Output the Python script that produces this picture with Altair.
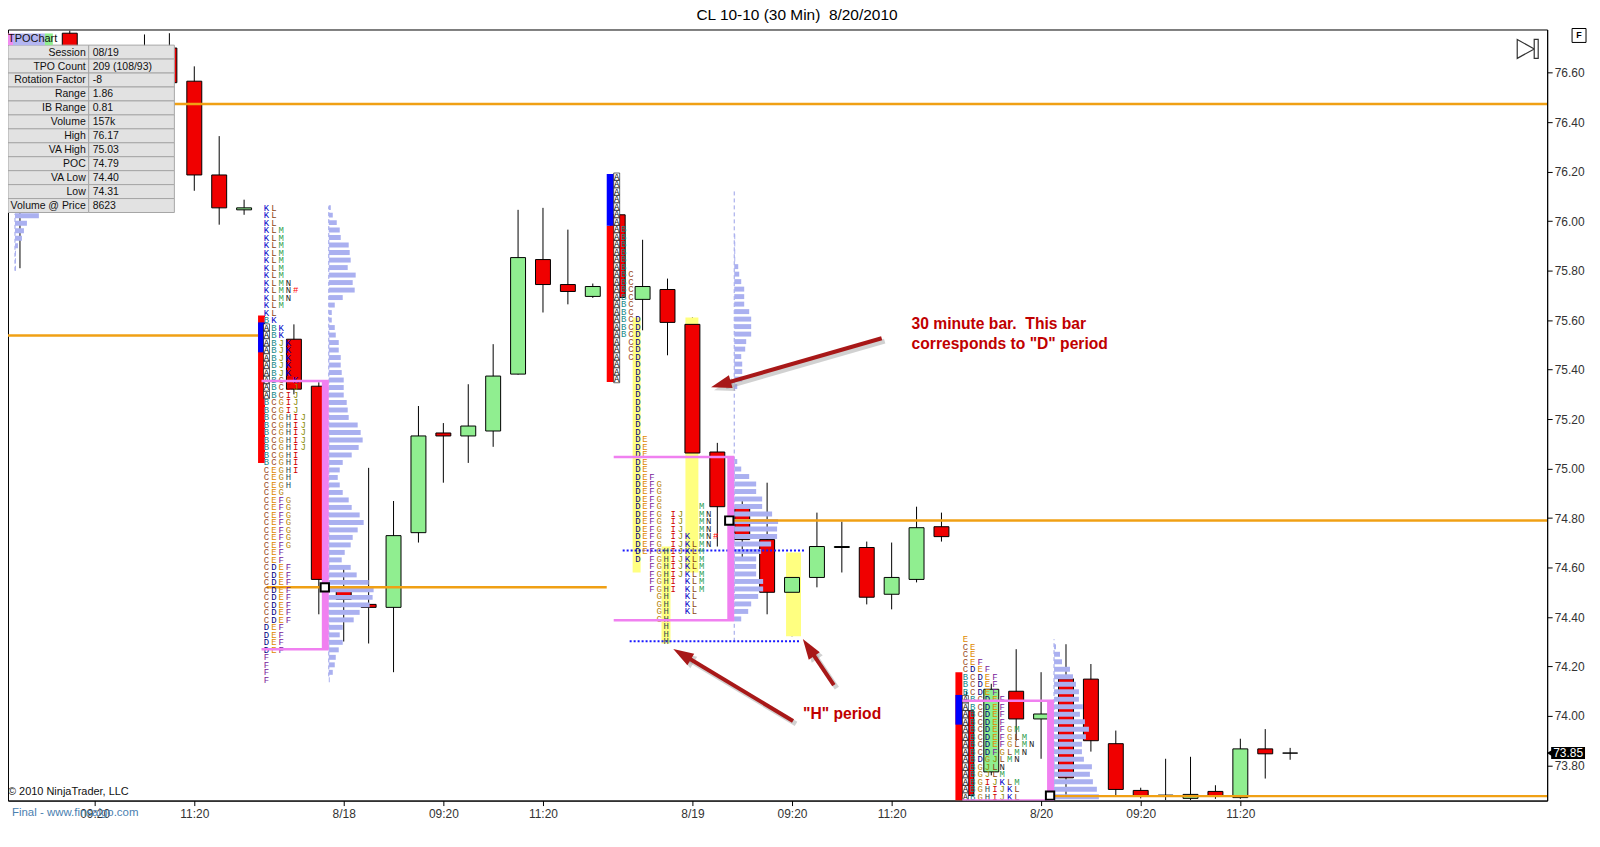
import math
import altair as alt
import pandas as pd

# ------------------------------------------------------------------ data
title_text = "CL 10-10 (30 Min)\u00a0 8/20/2010"

# 30-minute bars: slot index (evenly spaced bars) and OHLC
bar_slot = [0, 2, 5, 6, 7, 8, 9, 11, 12, 13,
            14, 15, 16, 17, 18, 19, 20, 21, 22, 23,
            24, 25, 26, 27, 28, 29, 30, 31, 32, 33,
            34, 35, 36, 37, 38, 39, 40, 41,
            42, 43, 44, 45, 46, 47, 48, 49, 50, 51]
bar_open = [76.20, 76.76, 76.65, 76.70, 76.566, 76.187, 76.046, 75.523, 75.333, 74.520,
            74.451, 74.439, 74.741, 75.144, 75.132, 75.152, 75.382, 75.845, 75.744, 75.696,
            76.026, 75.684, 75.724, 75.583, 75.067, 74.842, 74.713, 74.500, 74.560, 74.681,
            74.681, 74.492, 74.552, 74.765, 74.021, 73.774, 74.100, 73.988,
            74.15, 74.149, 73.888, 73.699, 73.68, 73.667, 73.695, 73.670, 73.867, 73.85]
bar_high = [76.30, 76.77, 76.755, 76.76, 76.626, 76.344, 76.087, 75.583, 75.349, 74.600,
            75.003, 74.869, 75.253, 75.184, 75.341, 75.503, 76.046, 76.054, 75.966, 75.748,
            76.170, 75.925, 75.768, 75.611, 75.104, 74.874, 74.943, 74.653, 74.822, 74.786,
            74.705, 74.701, 74.846, 74.822, 74.10, 74.13, 74.270, 74.177,
            74.290, 74.210, 73.941, 73.71, 73.827, 73.835, 73.72, 73.908, 73.947, 73.871]
bar_low = [75.81, 76.40, 76.50, 76.50, 76.123, 75.986, 76.026, 75.30, 74.411, 74.301,
           74.293, 74.177, 74.701, 74.943, 75.023, 75.088, 75.380, 75.631, 75.664, 75.690,
           75.620, 75.559, 75.458, 74.633, 74.685, 74.633, 74.411, 74.322, 74.520, 74.580,
           74.451, 74.431, 74.540, 74.705, 73.65, 73.76, 73.90, 73.827,
           73.68, 73.856, 73.68, 73.667, 73.66, 73.66, 73.665, 73.665, 73.747, 73.823]
bar_close = [76.05, 76.50, 76.60, 76.56, 76.187, 76.054, 76.054, 75.321, 74.552, 74.471,
             74.439, 74.729, 75.132, 75.132, 75.172, 75.374, 75.853, 75.744, 75.716, 75.736,
             75.692, 75.736, 75.591, 75.063, 74.846, 74.713, 74.500, 74.560, 74.685, 74.685,
             74.480, 74.560, 74.761, 74.725, 73.679, 74.108, 73.988, 74.008,
             73.75, 73.900, 73.703, 73.675, 73.675, 73.683, 73.675, 73.867, 73.847, 73.85]

tick_slots = [3, 7, 13, 17, 21, 27, 31, 35, 41, 45, 49]
tick_labels = ["09:20", "11:20", "8/18", "09:20", "11:20", "8/19",
               "09:20", "11:20", "8/20", "09:20", "11:20"]
price_ticks = [73.8, 74.0, 74.2, 74.4, 74.6, 74.8, 75.0, 75.2, 75.4, 75.6,
               75.8, 76.0, 76.2, 76.4, 76.6]

# TPO letter profiles (one string per price row, top row first)
LETTER_ORDER = "ABCDEFGHIJKLMN#"
tpo_818 = ["KL", "KL", "KL", "KLM", "KLM", "KLM", "KLM", "KLM", "KLM", "KLM",
           "KLMN", "KLMN#", "KLMN", "KLM", "KL", "BK", "ABK", "ABK", "ABJK", "ABJK",
           "ABJK", "ABJK", "ABJK", "ABCIK", "ABCIJ", "ABCIJ", "BCGIJ", "BCGIJ", "BCGHIJ", "BCGHIJ",
           "BCGHIJ", "BCGHIJ", "BCGHIJ", "BCGHI", "BCGHI", "CEGHI", "CEGH", "CEGH", "CEG", "CEFG",
           "CEFG", "CEFG", "CEFG", "CEFG", "CEFG", "CEFG", "CEF", "CEF", "CDEF", "CDEF",
           "CDEF", "CDEF", "CDEF", "CDEF", "CDEF", "CDEF", "DEF", "DEF", "DEF", "DEF",
           "F", "F", "F", "F"]
tpo_819 = ["A"] * 7 + ["AB"] * 6 + ["ABC"] * 6 + ["ABCD"] * 3 + ["ACD"] * 3 + ["AD"] * 3 + \
          ["D"] * 7 + ["DE"] * 5 + ["DEF"] + ["DEFG"] * 3 + ["DEFGM"] + ["DEFGIJMN"] * 3 + \
          ["DEFGIJKMN#", "DEFGIJKLMN", "DEFGHIJKLM", "DFGHIJKLM"] + ["FGHIJKLM"] * 2 + \
          ["FGHIKLM"] * 2 + ["GHKL"] * 3 + ["GH"] + ["H"] * 3
tpo_820 = ["E", "CE", "CE", "CEF", "CDEF", "BCDEF", "BCDEF", "BCDEF", "ABCDEF", "ABCDEF",
           "ABCDEF", "ABCDEF", "ABCDEFGM", "ABCDEFGLM", "ABCDEFGLMN", "ABCDFGLMN", "ABDGJLMN",
           "ABGJLN", "ABGJLM", "ABGIJKLM", "ABGHIJKL", "ABGHIJKL"]
ROW_STEP = 0.0303
tpo_profiles = [
    dict(rows=tpo_818, slot0=9.90, col=0.294, top=76.055, packed=True),
    dict(rows=tpo_819, slot0=23.96, col=0.284, top=76.18, packed=False),
    dict(rows=tpo_820, slot0=37.96, col=0.296, top=74.31, packed=True),
]
letter_colors = {"A": "#000000", "B": "#178a8a", "C": "#a0522d", "D": "#00007f",
                 "E": "#e08a00", "F": "#7a1a9a", "G": "#b8860b", "H": "#2f4f4f",
                 "I": "#d00000", "J": "#8a8a00", "K": "#0000c8", "L": "#8b4513",
                 "M": "#2e9e4e", "N": "#202020", "#": "#ff0000"}

# volume-at-price histograms (relative volume per row)
vol_817 = [24, 12, 9, 7, 3, 1, 1, 1]
vol_818 = [2, 4, 8, 11, 12, 20, 21, 22, 19, 27, 24, 26, 14, 6, 3, 3, 6, 7, 10, 10,
           12, 12, 13, 15, 15, 15, 18, 19, 20, 29, 32, 34, 30, 23, 14, 11, 9, 11, 14, 20,
           23, 31, 35, 29, 24, 22, 16, 13, 22, 28, 40, 45, 44, 41, 31, 25, 14, 11, 14, 10,
           7, 6, 4, 1]
vol_819 = [0, 0, 0, 0, 0, 0, 0, 0, 1, 1, 1, 1, 4, 5, 7, 10, 10, 10, 15, 17,
           17, 17, 12, 11, 7, 8, 8, 8, 3, 0, 0, 0, 0, 0, 0, 0, 0, 0, 3, 7,
           15, 22, 22, 28, 28, 38, 44, 43, 43, 37, 27, 22, 22, 22, 29, 29, 24, 17, 14, 7,
           0, 0, 0]
vol_820 = [0, 2, 6, 8, 16, 19, 22, 25, 25, 29, 26, 31, 35, 32, 28, 28, 30, 38, 36, 39, 43, 45]
vol_profiles = [(vol_817, -0.2, 76.022), (vol_818, 12.4, 76.055),
                (vol_819, 28.68, 76.18), (vol_820, 41.52, 74.31)]
VOL_PER_SLOT = 25.0
vol_axis_slot = [-0.2, 12.4, 28.68, 41.52]
vol_axis_top = [76.03, 76.06, 76.13, 74.31]
vol_axis_bot = [75.80, 74.16, 74.30, 73.658]

# session POC lines (orange)
poc_price = [76.474, 75.538, 74.520, 74.790, 73.676]
poc_from = [-0.48, -0.48, 9.9, 28.5, 41.36]
poc_to = [61.32, 9.56, 23.56, 61.32, 61.32]
poc_sq_slot = [12.24, 28.48, 41.36]
poc_sq_price = [74.520, 74.790, 73.678]

# initial balance bars
ib_x0 = [9.56, 23.56, 37.56]
ib_x1 = [9.84, 23.84, 37.84]
ib_high = [75.619, 75.982, 74.177]
ib_low = [75.023, 75.350, 73.658]
a_high = [75.591, 76.191, 74.085]
a_low = [75.470, 75.982, 73.965]

# value areas (pink)
va_top = [75.354, 75.047, 74.062]
va_bot = [74.270, 74.387, 73.658]
va_left = [9.70, 23.84, 37.84]
va_right = [12.4, 28.68, 41.52]

# yellow highlights (D and H periods)
hl_x0 = [24.60, 26.72, 25.76, 30.76]
hl_x1 = [24.92, 27.24, 26.12, 31.36]
hl_top = [75.611, 75.611, 74.685, 74.661]
hl_bot = [74.580, 74.580, 74.293, 74.322]

# blue dotted levels
dot_price = [74.669, 74.302]
dot_from = [24.2, 24.48]
dot_to = [31.52, 31.28]

# annotations
arrow_tail_slot = [34.6, 31.04, 32.68]
arrow_tail_price = [75.527, 73.980, 74.125]
arrow_tip_slot = [27.76, 26.24, 31.44]
arrow_tip_price = [75.329, 74.270, 74.310]
note_text = ["30 minute bar.\u00a0 This bar", 'corresponds to "D" period', '"H" period']
note_slot = [35.8, 35.8, 31.44]
note_price = [75.585, 75.503, 74.008]

info_labels = ["Session", "TPO Count", "Rotation Factor", "Range", "IB Range", "Volume",
               "High", "VA High", "POC", "VA Low", "Low", "Volume @ Price"]
info_values = ["08/19", "209 (108/93)", "-8", "1.86", "0.81", "157k",
               "76.17", "75.03", "74.79", "74.40", "74.31", "8623"]

# ------------------------------------------------------------------ layout
W, H = 1545, 774
X_DOMAIN = [-0.48, 61.32]
Y_DOMAIN = [73.658, 76.775]
PX_X = W / (X_DOMAIN[1] - X_DOMAIN[0])
PX_Y = H / (Y_DOMAIN[1] - Y_DOMAIN[0])
xs = alt.Scale(domain=X_DOMAIN, nice=False, zero=False)
ys = alt.Scale(domain=Y_DOMAIN, nice=False, zero=False)
FONT = "Liberation Sans"

label_expr = ("[" + ",".join("'%s'" % t for t in tick_labels) + "][indexof(["
              + ",".join(str(s) for s in tick_slots) + "], datum.value)]")
XAXIS = alt.Axis(values=tick_slots, labelExpr=label_expr, title=None, grid=False, tickSize=5,
                 tickColor="black", domainColor="black", labelFont=FONT, labelFontSize=12,
                 labelColor="#333333", labelPadding=3, labelOverlap=False, orient="bottom")
YAXIS = alt.Axis(orient="right", values=price_ticks, format=".2f", title=None, grid=False,
                 tickSize=5, tickColor="black", domainColor="black", labelFont=FONT,
                 labelFontSize=12, labelColor="#333333", labelPadding=2, labelOverlap=False)


def X(f):
    return alt.X(f, type="quantitative", scale=xs, axis=XAXIS)


def Y(f):
    return alt.Y(f, type="quantitative", scale=ys, axis=YAXIS)


def py(pixel):
    """pixel row inside the plot -> price (for overlay layout only)"""
    return Y_DOMAIN[1] - pixel / PX_Y


# candles
cdf = pd.DataFrame(dict(slot=bar_slot, open=bar_open, high=bar_high, low=bar_low, close=bar_close))
cdf["bx0"] = cdf["slot"] - 7.5 / PX_X
cdf["bx1"] = cdf["slot"] + 7.5 / PX_X
cdf["fill"] = ["#90ee90" if c > o else ("#f00000" if c < o else "#ffffff")
               for o, c in zip(cdf["open"], cdf["close"])]

wicks = alt.Chart(cdf).mark_rule(color="black", strokeWidth=1, clip=True).encode(
    x=X("slot"), y=Y("low"), y2="high")
bodies = alt.Chart(cdf).mark_rect(stroke="black", strokeWidth=1, clip=True).encode(
    x=X("bx0"), x2="bx1", y=Y("open"), y2="close",
    fill=alt.Fill("fill:N", scale=None),
)

# yellow highlight
hldf = pd.DataFrame(dict(x0=hl_x0, x1=hl_x1, t=hl_top, b=hl_bot))
highlights = alt.Chart(hldf).mark_rect(color="#ffff80", clip=True).encode(
    x=X("x0"), x2="x1", y=Y("b"), y2="t")

# IB bars
ibdf = pd.DataFrame(dict(x0=ib_x0, x1=ib_x1, h=ib_high, l=ib_low, ah=a_high, al=a_low))
ib_red = alt.Chart(ibdf).mark_rect(color="#ff0000", clip=True).encode(
    x=X("x0"), x2="x1", y=Y("l"), y2="h")
ib_blue = alt.Chart(ibdf).mark_rect(color="#0000ff", clip=True).encode(
    x=X("x0"), x2="x1", y=Y("al"), y2="ah")

# volume histograms
vrec = []
for vols, base, top in vol_profiles:
    for i, v in enumerate(vols):
        if v <= 0:
            continue
        p = top - i * ROW_STEP
        vrec.append(dict(x0=base, x1=base + v / VOL_PER_SLOT, y0=p - 0.01, y1=p + 0.01))
vdf = pd.DataFrame(vrec)
vol_bars = alt.Chart(vdf).mark_rect(color="#aab0f0", clip=True).encode(
    x=X("x0"), x2="x1", y=Y("y0"), y2="y1")
vadf = pd.DataFrame(dict(s=vol_axis_slot, t=vol_axis_top, b=vol_axis_bot))
vol_axes = alt.Chart(vadf).mark_rule(color="#9aa0e8", strokeWidth=1, strokeDash=[4, 3], clip=True).encode(
    x=X("s"), y=Y("b"), y2="t")

# POC lines
pocdf = pd.DataFrame(dict(p=poc_price, a=poc_from, b=poc_to))
poc_lines = alt.Chart(pocdf).mark_rule(color="#f0a014", strokeWidth=2.5, clip=True).encode(
    x=X("a"), x2="b", y=Y("p"))

# TPO letters
lrec = []
arec = []
for prof in tpo_profiles:
    for i, row in enumerate(prof["rows"]):
        p = prof["top"] - i * ROW_STEP
        for j, ch in enumerate(row):
            c = j if prof["packed"] else LETTER_ORDER.index(ch)
            s = prof["slot0"] + c * prof["col"]
            lrec.append(dict(s=s, p=p, ch=ch))
            if ch == "A":
                arec.append(dict(s0=s - 3 / PX_X, s1=s + 3 / PX_X, p0=p - 3.7 / PX_Y, p1=p + 3.7 / PX_Y))
ldf = pd.DataFrame(lrec)
adf = pd.DataFrame(arec)
a_boxes = alt.Chart(adf).mark_rect(fill="white", stroke="black", strokeWidth=0.6, clip=True).encode(
    x=X("s0"), x2="s1", y=Y("p0"), y2="p1")
letters = alt.Chart(ldf).mark_text(font="Liberation Mono", fontSize=9, baseline="middle",
                                   align="center", clip=True).encode(
    x=X("s"), y=Y("p"), text="ch:N",
    color=alt.Color("ch:N", scale=alt.Scale(domain=list(letter_colors.keys()),
                                            range=list(letter_colors.values())), legend=None),
)

# value areas
va_h = []
va_v = []
for t, b, l, r in zip(va_top, va_bot, va_left, va_right):
    va_h.append(dict(a=l, b=r, p=t))
    va_h.append(dict(a=l, b=r, p=b))
    va_v.append(dict(a=r - 7 / PX_X, b=r, t=t, u=b))
va_lines = alt.Chart(pd.DataFrame(va_h)).mark_rule(color="#f080f0", strokeWidth=2.5, clip=True).encode(
    x=X("a"), x2="b", y=Y("p"))
va_bars = alt.Chart(pd.DataFrame(va_v)).mark_rect(color="#f080f0", clip=True).encode(
    x=X("a"), x2="b", y=Y("u"), y2="t")

# blue dotted
dotdf = pd.DataFrame(dict(p=dot_price, a=dot_from, b=dot_to))
dots = alt.Chart(dotdf).mark_rule(color="#1818ff", strokeWidth=2, strokeDash=[2, 2], clip=True).encode(
    x=X("a"), x2="b", y=Y("p"))

# POC squares
sqdf = pd.DataFrame(dict(s=poc_sq_slot, p=poc_sq_price))
poc_sq = alt.Chart(sqdf).mark_point(shape="square", filled=True, fill="white", stroke="black",
                                    strokeWidth=2, size=70, opacity=1, clip=True).encode(
    x=X("s"), y=Y("p"))

# arrows
shaft = []
heads = []
for ts, tp, hs, hp in zip(arrow_tail_slot, arrow_tail_price, arrow_tip_slot, arrow_tip_price):
    dxp = (hs - ts) * PX_X
    dyp = -(hp - tp) * PX_Y
    L = math.hypot(dxp, dyp)
    ux, uy = dxp / L, dyp / L
    ang = math.degrees(math.atan2(ux, -uy)) % 360
    es = hs - 12 * ux / PX_X
    ep = hp + 12 * uy / PX_Y
    cs = hs - 10 * ux / PX_X
    cp = hp + 10 * uy / PX_Y
    shaft.append(dict(a=ts, b=es, p=tp, q=ep))
    heads.append(dict(s=cs, p=cp, ang=ang))
shdf = pd.DataFrame(shaft)
hddf = pd.DataFrame(heads)
shdf_sh = shdf.copy()
shdf_sh[["a", "b"]] += 3 / PX_X
shdf_sh[["p", "q"]] -= 3 / PX_Y
hddf_sh = hddf.copy()
hddf_sh["s"] += 3 / PX_X
hddf_sh["p"] -= 3 / PX_Y
HEAD = "M0,-1L0.65,1L-0.65,1Z"
arrow_shadow = alt.Chart(shdf_sh).mark_rule(color="#999999", strokeWidth=5, opacity=0.45).encode(
    x=X("a"), x2="b", y=Y("p"), y2="q")
head_shadow = alt.Chart(hddf_sh).mark_point(shape=HEAD, filled=True, color="#999999", size=420,
                                            opacity=0.45).encode(
    x=X("s"), y=Y("p"), angle=alt.Angle("ang:Q", scale=None))
arrow_lines = alt.Chart(shdf).mark_rule(color="#a81818", strokeWidth=4).encode(
    x=X("a"), x2="b", y=Y("p"), y2="q")
arrow_heads = alt.Chart(hddf).mark_point(shape=HEAD, filled=True, color="#a81818", size=420,
                                         opacity=1).encode(
    x=X("s"), y=Y("p"), angle=alt.Angle("ang:Q", scale=None))

ndf = pd.DataFrame(dict(t=note_text, s=note_slot, p=note_price))
notes = alt.Chart(ndf).mark_text(font=FONT, fontSize=15.7, fontWeight="bold", color="#c00000",
                                 align="left", baseline="middle").encode(
    x=X("s"), y=Y("p"), text="t:N")

# info table (overlay; rows laid out from the top of the plot)
tdf = pd.DataFrame(dict(label=info_labels, value=info_values))
row_idx = list(range(len(info_labels)))
tdf["y0"] = [py(15.7 + 14 * i) for i in row_idx]
tdf["y1"] = [py(15.7 + 14 * (i + 1)) for i in row_idx]
tdf["ym"] = [py(15.7 + 14 * i + 7.5) for i in row_idx]
cell_l = alt.Chart(tdf).mark_rect(fill="#e2e2e2", stroke="#a6a6a6", strokeWidth=1).encode(
    x=alt.value(0), x2=alt.value(81), y=Y("y0"), y2="y1")
cell_v = alt.Chart(tdf).mark_rect(fill="#e2e2e2", stroke="#a6a6a6", strokeWidth=1).encode(
    x=alt.value(81), x2=alt.value(167), y=Y("y0"), y2="y1")
txt_l = alt.Chart(tdf).mark_text(font=FONT, fontSize=10.5, align="right", baseline="middle",
                                 color="#111111").encode(
    x=alt.value(78), y=Y("ym"), text="label:N")
txt_v = alt.Chart(tdf).mark_text(font=FONT, fontSize=10.5, align="left", baseline="middle",
                                 color="#111111").encode(
    x=alt.value(85), y=Y("ym"), text="value:N")

one = pd.DataFrame({"a": [0]})
tab_pink = alt.Chart(one).mark_rect(color="#f08cf0").encode(
    x=alt.value(0), x2=alt.value(5), y=alt.value(4), y2=alt.value(15.7))
tab_lav = alt.Chart(one).mark_rect(color="#b4b6f2").encode(
    x=alt.value(5), x2=alt.value(37), y=alt.value(4), y2=alt.value(15.7))
tab_grn = alt.Chart(one).mark_rect(color="#90ee90").encode(
    x=alt.value(37), x2=alt.value(45), y=alt.value(4), y2=alt.value(15.7))
tab_txt = alt.Chart(one).mark_text(text="TPOChart", font=FONT, fontSize=11, align="left",
                                   baseline="middle", color="#111111").encode(
    x=alt.value(0), y=alt.value(10))

title = alt.Chart(one).mark_text(text=title_text, font=FONT, fontSize=15.5, align="center",
                                 baseline="middle", color="#000000").encode(
    x=alt.value(792), y=alt.value(-15))
copyright_txt = alt.Chart(one).mark_text(text="\u00a9 2010 NinjaTrader, LLC", font=FONT, fontSize=11,
                                         align="left", baseline="middle", color="#111111").encode(
    x=alt.value(0), y=alt.value(765))
final_txt = alt.Chart(one).mark_text(text="Final - www.finsalgo.com", font=FONT, fontSize=11.5,
                                     align="left", baseline="middle", color="#4a80b0").encode(
    x=alt.value(4), y=alt.value(786))

f_box = alt.Chart(one).mark_rect(fill="white", stroke="black", strokeWidth=1).encode(
    x=alt.value(1570), x2=alt.value(1584), y=alt.value(-1), y2=alt.value(13))
f_txt = alt.Chart(one).mark_text(text="F", font=FONT, fontSize=9, fontWeight="bold",
                                 align="center", baseline="middle").encode(
    x=alt.value(1577), y=alt.value(6))
play_tri = alt.Chart(one).mark_point(shape="M-0.9,-1L0.9,0L-0.9,1Z", filled=True, fill="white",
                                     stroke="#333333", strokeWidth=1.2, size=361, opacity=1).encode(
    x=alt.value(1523.5), y=alt.value(19.5))
play_bar = alt.Chart(one).mark_rect(fill="white", stroke="#333333", strokeWidth=1.2).encode(
    x=alt.value(1532), x2=alt.value(1536), y=alt.value(10), y2=alt.value(29))

last_close = bar_close[-1]
lpdf = pd.DataFrame(dict(p=[last_close], p0=[last_close - 6 / PX_Y], p1=[last_close + 6 / PX_Y],
                         t=["%.2f" % last_close]))
lp_box = alt.Chart(lpdf).mark_rect(color="black").encode(
    x=alt.value(W + 4), x2=alt.value(W + 38), y=Y("p0"), y2="p1")
lp_tri = alt.Chart(lpdf).mark_point(shape="triangle-left", filled=True, color="black", size=60,
                                    opacity=1).encode(x=alt.value(W + 3), y=Y("p"))
lp_txt = alt.Chart(lpdf).mark_text(font=FONT, fontSize=12, color="white", align="center",
                                   baseline="middle").encode(
    x=alt.value(W + 21), y=Y("p"), text="t:N")

chart = alt.layer(
    wicks, highlights, bodies, ib_red, ib_blue, vol_axes, vol_bars, poc_lines,
    dots, a_boxes, letters, va_lines, va_bars, poc_sq,
    arrow_shadow, head_shadow, arrow_lines, arrow_heads, notes,
    cell_l, cell_v, txt_l, txt_v, tab_pink, tab_lav, tab_grn, tab_txt,
    title, copyright_txt, final_txt, f_box, f_txt, play_tri, play_bar,
    lp_box, lp_tri, lp_txt,
).properties(
    width=W, height=H,
    padding={"left": 0, "top": 20, "right": 45, "bottom": 40},
    autosize=alt.AutoSizeParams(type="none"),
    background="white",
).configure_view(stroke="black", strokeWidth=1)

chart.save("out.html", embed_options={"renderer": "svg", "actions": False})
